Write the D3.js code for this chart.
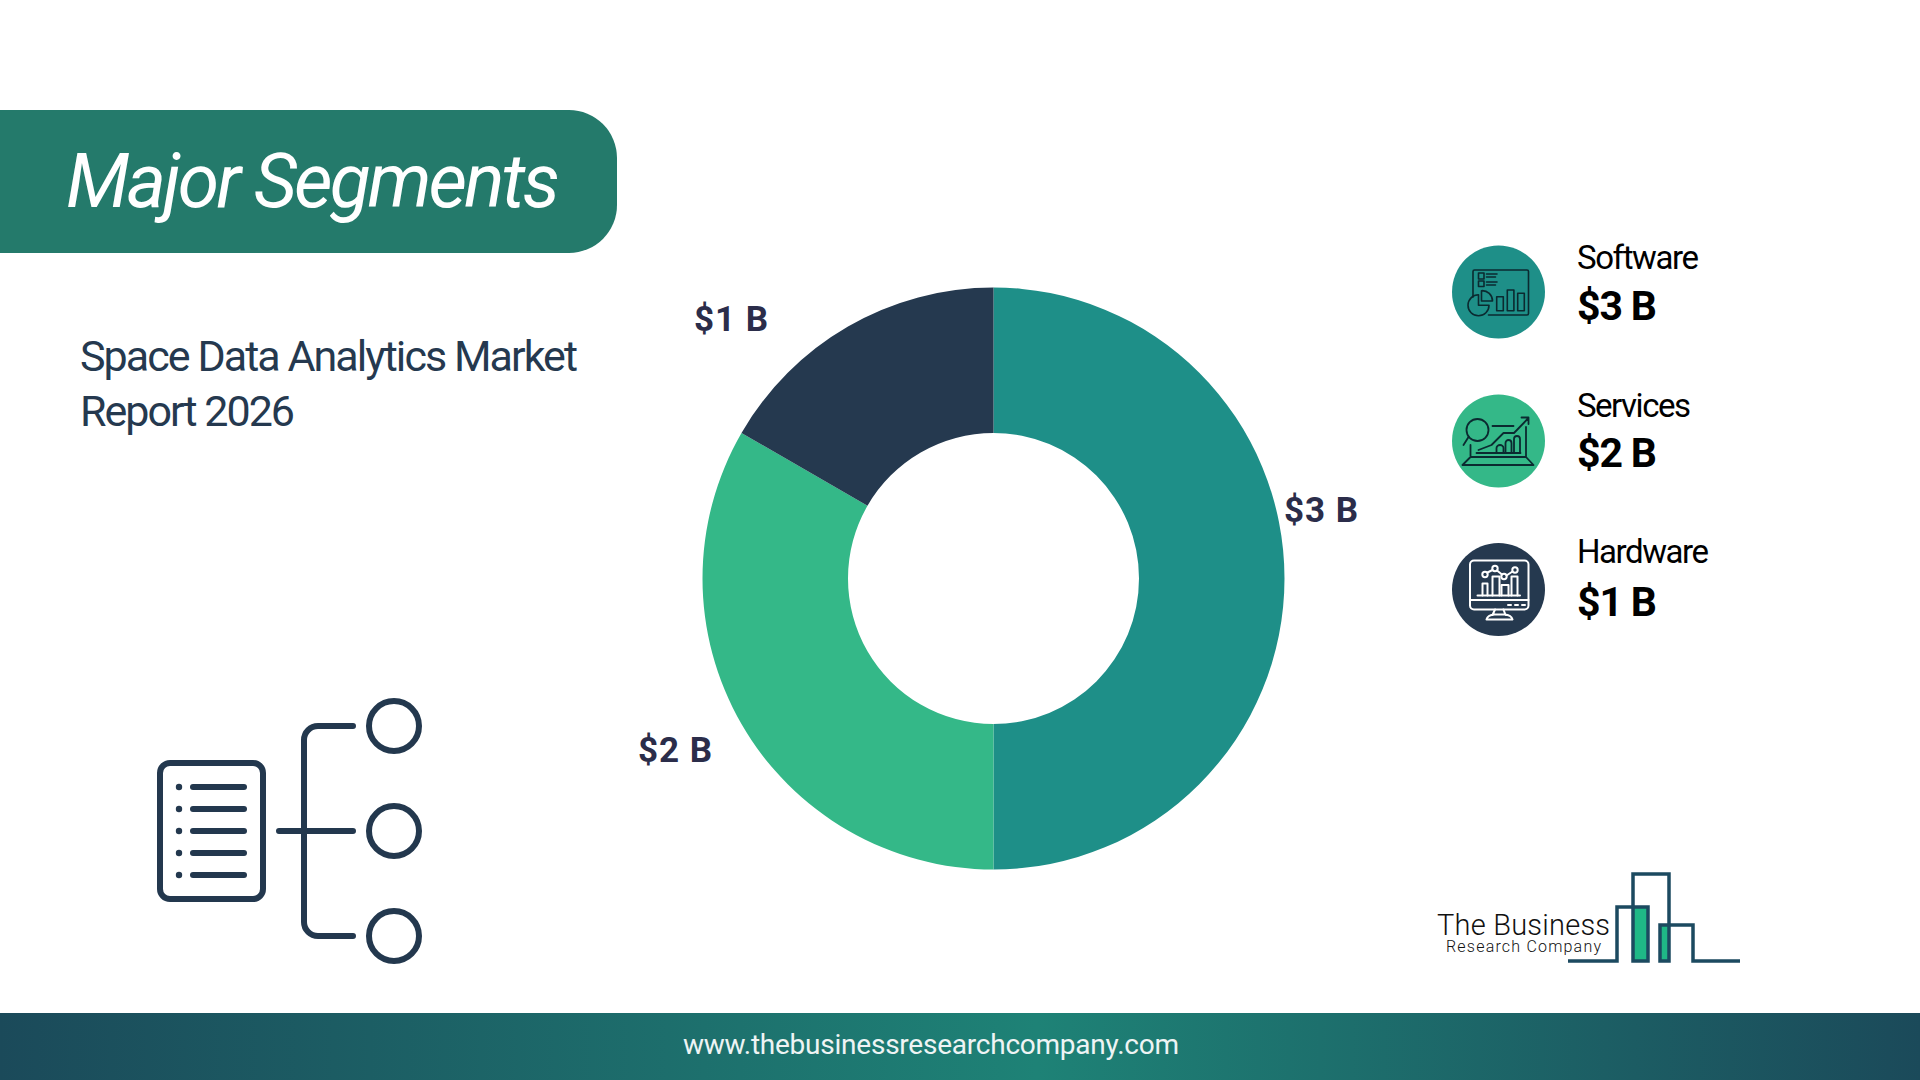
<!DOCTYPE html>
<html><head><meta charset="utf-8">
<script src="https://cdn.jsdelivr.net/npm/d3@7/dist/d3.min.js"></script>
<style>html,body{margin:0;padding:0;background:#fff;overflow:hidden}svg{display:block}text{font-family:Roboto,sans-serif}</style>
</head><body><svg id="c" width="1920" height="1080"></svg>
<script>
const categories = ["Software", "Services", "Hardware"];
const values = [3, 2, 1];
const valueLabels = ["$3 B", "$2 B", "$1 B"];
const colors = ["#1e8f88", "#34b888", "#25394f"];
const titleText = "Major Segments";
const subtitleLines = ["Space Data Analytics Market", "Report 2026"];
const footerText = "www.thebusinessresearchcompany.com";

const svg = d3.select("#c");
const defs = svg.append("defs");
const fg = defs.append("linearGradient").attr("id","foot");
[[0,"#1b4a5a"],[0.54,"#1e8276"],[1,"#1b4a5a"]].forEach(s=>fg.append("stop").attr("offset",s[0]).attr("stop-color",s[1]));

function fit(sel, w){ return sel.attr("textLength",w).attr("lengthAdjust","spacing"); }

// banner
svg.append("path").attr("fill","#247a6b")
  .attr("d","M0,110H569a48,48 0 0 1 48,48V205a48,48 0 0 1 -48,48H0Z");
fit(svg.append("text").attr("x",66).attr("y",207).attr("fill","#fff")
  .attr("font-size",75).attr("font-style","italic").attr("font-weight",400).text(titleText),494);

// subtitle
const subW=[498,215];
subtitleLines.forEach((t,i)=>fit(svg.append("text").attr("x",80).attr("y",371+i*55)
  .attr("fill","#25394f").attr("font-size",43).attr("font-weight",400).text(t),subW[i]));

// donut
const cx=993.5, cy=578.5, R=291, r=145.5;
const color=d3.scaleOrdinal().domain(categories).range(colors);
const pie=d3.pie().sort(null).value((d,i)=>values[i]);
const arc=d3.arc().innerRadius(r).outerRadius(R);
const g=svg.append("g").attr("transform",`translate(${cx},${cy})`);
g.selectAll("path").data(pie(categories)).join("path").attr("d",arc).attr("fill",d=>color(d.data));
// value labels sit outside the ring, offset from the centre
const labelOffset=[[328,-69.5],[-318,170],[-262,-260.5]];
g.selectAll("text").data(valueLabels).join("text")
  .attr("x",(d,i)=>labelOffset[i][0])
  .attr("y",(d,i)=>labelOffset[i][1]+13)
  .attr("text-anchor","middle").attr("font-size",35).attr("font-weight",700)
  .attr("fill","#2b2d4a").attr("letter-spacing",1).text(d=>d);

// legend
const legY=[292,441,589.5], legName=[269,417,563], legVal=[320,467,616], nameW=[122,114,132];
const lg=svg.append("g");
categories.forEach((c,i)=>{
  lg.append("circle").attr("cx",1498.5).attr("cy",legY[i]).attr("r",46.5).attr("fill",color(c));
  fit(lg.append("text").attr("x",1577).attr("y",legName[i]).attr("font-size",33).attr("font-weight",400).attr("fill","#000").text(c),nameW[i]);
  fit(lg.append("text").attr("x",1577).attr("y",legVal[i]).attr("font-size",41).attr("font-weight",700).attr("fill","#000").text(valueLabels[i]),80);
});

// legend icons
function ic(col,sw,cyy){return svg.append("g").attr("transform",`translate(1498.5,${cyy})`).attr("fill","none").attr("stroke",col).attr("stroke-width",sw).attr("stroke-linejoin","round").attr("stroke-linecap","round");}
const a=ic("#0b2a30",1.6,legY[0]);
a.append("path").attr("d","M-25.5,5V-20.5a1.5,1.5 0 0 1 1.5,-1.5H28.5a1.5,1.5 0 0 1 1.5,1.5V21.5a1.5,1.5 0 0 1 -1.5,1.5H-10");
a.append("rect").attr("x",-20).attr("y",-19).attr("width",5.5).attr("height",6);
a.append("rect").attr("x",-20).attr("y",-11).attr("width",5.5).attr("height",5.5);
a.append("path").attr("d","M-12,-18H-1.5M-12,-15H-3M-12,-10H-1.5M-12,-7H-3");
a.append("path").attr("d","M-20,2.8A10.5,10.5 0 1 0 -9.5,13.3H-20Z");
a.append("path").attr("d","M-17,-1.3V9H-6A10.3,10.3 0 0 0 -17,-1.3Z");
[[-1.8,4.7],[8.8,-2],[19.2,1.3]].forEach(p=>a.append("rect").attr("x",p[0]).attr("y",p[1]).attr("width",6.6).attr("height",18.7-p[1]));
const b=ic("#0b2a30",1.8,legY[1]);
b.append("circle").attr("cx",-21).attr("cy",-11).attr("r",11);
b.append("path").attr("d","M-30,-4L-35,4M-6,-15H15M-28,4V16M-36,24H35L27.5,16H-28ZM27.5,-14V16M-22,12H22M-20,9L-7,4L5,-8H15.5L30,-23M23,-23.5H30V-17");
[[-2,4,7],[7,-1,6],[15.5,-5,6]].forEach(c=>b.append("path").attr("d",`M${c[0]},12V${c[1]+3}a${c[2]/2},3 0 0 1 ${c[2]},0V12`));
const d=ic("#fff",2,legY[2]);
d.append("rect").attr("x",-28.5).attr("y",-29).attr("width",58.5).attr("height",49).attr("rx",4);
d.append("path").attr("d","M-28.5,10.5H30M-21,6H21.5M-3.5,20L-6,25.5M5,20L7,25.5M-12,30a9,6 0 0 1 8,-5H6a9,6 0 0 1 8,5Z");
[[-16,-6,5],[-6,-13,7],[3,-4.5,7],[13,-13,6]].forEach(p=>d.append("path").attr("d",`M${p[0]},6V${p[1]}H${p[0]+p[2]}V6`));
d.append("path").attr("d","M-11,-17L-6,-19.5M-1.5,-19L3.5,-15M8,-14L14,-18");
[[-13.5,-15],[-3.5,-21],[5.5,-13],[16.5,-19.5]].forEach(p=>d.append("circle").attr("cx",p[0]).attr("cy",p[1]).attr("r",2.7));
[11,18,25].forEach(x=>d.append("path").attr("d",`M${x-1.5},15.5h3`));

// hierarchy icon
const n=svg.append("g").attr("fill","none").attr("stroke","#23384e").attr("stroke-width",6).attr("stroke-linecap","round");
n.append("rect").attr("x",160).attr("y",763).attr("width",103).attr("height",136).attr("rx",10);
[787,809,831,853,875].forEach(y=>{
  n.append("path").attr("d",`M193,${y}H244`);
  n.append("circle").attr("cx",179).attr("cy",y).attr("r",3.2).attr("fill","#23384e").attr("stroke","none");
});
n.append("path").attr("d","M353,726H318a14,14 0 0 0 -14,14V922a14,14 0 0 0 14,14H353M279,831H353");
[726,831,936].forEach(y=>n.append("circle").attr("cx",394).attr("cy",y).attr("r",25));

// logo
const lo=svg.append("g");
lo.append("rect").attr("x",1634).attr("y",907).attr("width",14).attr("height",54).attr("fill","#1fb886");
lo.append("rect").attr("x",1661).attr("y",925).attr("width",8).attr("height",36).attr("fill","#1fb886");
lo.append("path").attr("fill","none").attr("stroke","#1c4a60").attr("stroke-width",3.5)
 .attr("d","M1568,961H1617V907H1648V961H1633V874H1669V961H1660V925H1693V961H1740");
fit(lo.append("text").attr("x",1437).attr("y",935).attr("font-size",29).attr("font-family","Open Sans").attr("font-weight",300).attr("fill","#111").text("The Business"),173);
fit(lo.append("text").attr("x",1446).attr("y",952).attr("font-size",16).attr("font-family","Open Sans").attr("font-weight",300).attr("fill","#111").text("Research Company"),155);

// footer
svg.append("rect").attr("x",0).attr("y",1013).attr("width",1920).attr("height",67).attr("fill","url(#foot)");
fit(svg.append("text").attr("x",683).attr("y",1054).attr("font-size",28).attr("fill","#eef4f4").text(footerText),496);
</script></body></html>
